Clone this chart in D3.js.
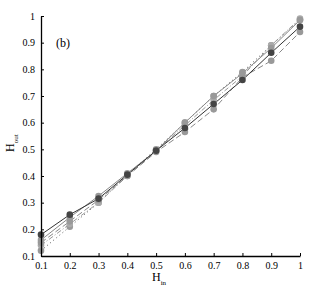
<!DOCTYPE html>
<meta charset="utf-8">
<script src="https://d3js.org/d3.v7.min.js"></script>
<body style="margin:0;background:#fff">
<svg width="316" height="288"></svg>
<script>
var hin = [0.1, 0.2, 0.3, 0.4, 0.5, 0.6, 0.7, 0.8, 0.9, 1.0];
var s1 = [0.18, 0.255, 0.315, 0.405, 0.495, 0.58, 0.67, 0.76, 0.862, 0.96];
var s2 = [0.16, 0.245, 0.325, 0.41, 0.495, 0.60, 0.70, 0.785, 0.88, 0.985];
var s3 = [0.15, 0.23, 0.31, 0.40, 0.49, 0.565, 0.65, 0.77, 0.832, 0.94];
var s4 = [0.14, 0.22, 0.30, 0.40, 0.495, 0.59, 0.685, 0.775, 0.89, 0.99];
var s5 = [0.12, 0.21, 0.30, 0.405, 0.50, 0.60, 0.70, 0.79, 0.89, 0.985];
var ticks = [0.1, 0.2, 0.3, 0.4, 0.5, 0.6, 0.7, 0.8, 0.9, 1];

var series = [
  {v: s5, stroke: '#555', dash: '1,3', fill: '#999'},
  {v: s4, stroke: '#999', dash: '5,2,1,2', fill: '#aaa'},
  {v: s3, stroke: '#888', dash: '6,3', fill: '#999'},
  {v: s2, stroke: '#888', dash: null, fill: '#999'},
  {v: s1, stroke: '#333', dash: null, fill: '#444'}
];

var svg = d3.select('svg');
var x = d3.scaleLinear().domain([0.1, 1]).range([41, 300]);
var y = d3.scaleLinear().domain([0.1, 1]).range([256, 16]);
var font = '"Liberation Serif", "DejaVu Serif", serif';

var line = d3.line().x(function (d, i) { return x(hin[i]); }).y(function (d) { return y(d); });

series.forEach(function (s) {
  svg.append('path').datum(s.v)
    .attr('d', line)
    .attr('fill', 'none')
    .attr('stroke', s.stroke)
    .attr('stroke-width', 1)
    .attr('stroke-dasharray', s.dash);
});
series.forEach(function (s) {
  svg.selectAll(null).data(s.v).enter().append('circle')
    .attr('cx', function (d, i) { return x(hin[i]); })
    .attr('cy', function (d) { return y(d); })
    .attr('r', 3.3)
    .attr('fill', s.fill);
});

var fmt = function (d) { return d === 1 ? '1' : d3.format('.1f')(d); };
var xa = svg.append('g').attr('transform', 'translate(0,256)')
  .call(d3.axisBottom(x).tickValues(ticks).tickSizeInner(-3).tickSizeOuter(0).tickPadding(6).tickFormat(fmt));
var ya = svg.append('g').attr('transform', 'translate(41,0)')
  .call(d3.axisLeft(y).tickValues(ticks).tickSizeInner(-3).tickSizeOuter(0).tickPadding(6).tickFormat(fmt));
[xa, ya].forEach(function (a) {
  a.select('.domain').attr('stroke', '#000').attr('stroke-width', 1.3);
  a.selectAll('text').attr('font-family', font).attr('font-size', 10).attr('fill', '#000');
});

svg.append('text').attr('x', 56).attr('y', 47).attr('font-family', font).attr('font-size', 12).text('(b)');

var xl = svg.append('text').attr('x', 152).attr('y', 281).attr('font-family', font).attr('font-size', 12).attr('fill', '#000');
xl.append('tspan').text('H');
xl.append('tspan').attr('dy', 4).attr('font-size', 7).text('in');

var yl = svg.append('text').attr('transform', 'translate(14,152) rotate(-90)').attr('font-family', font).attr('font-size', 12).attr('fill', '#000');
yl.append('tspan').text('H');
yl.append('tspan').attr('dy', 4).attr('font-size', 7).text('out');
</script>
</body>
